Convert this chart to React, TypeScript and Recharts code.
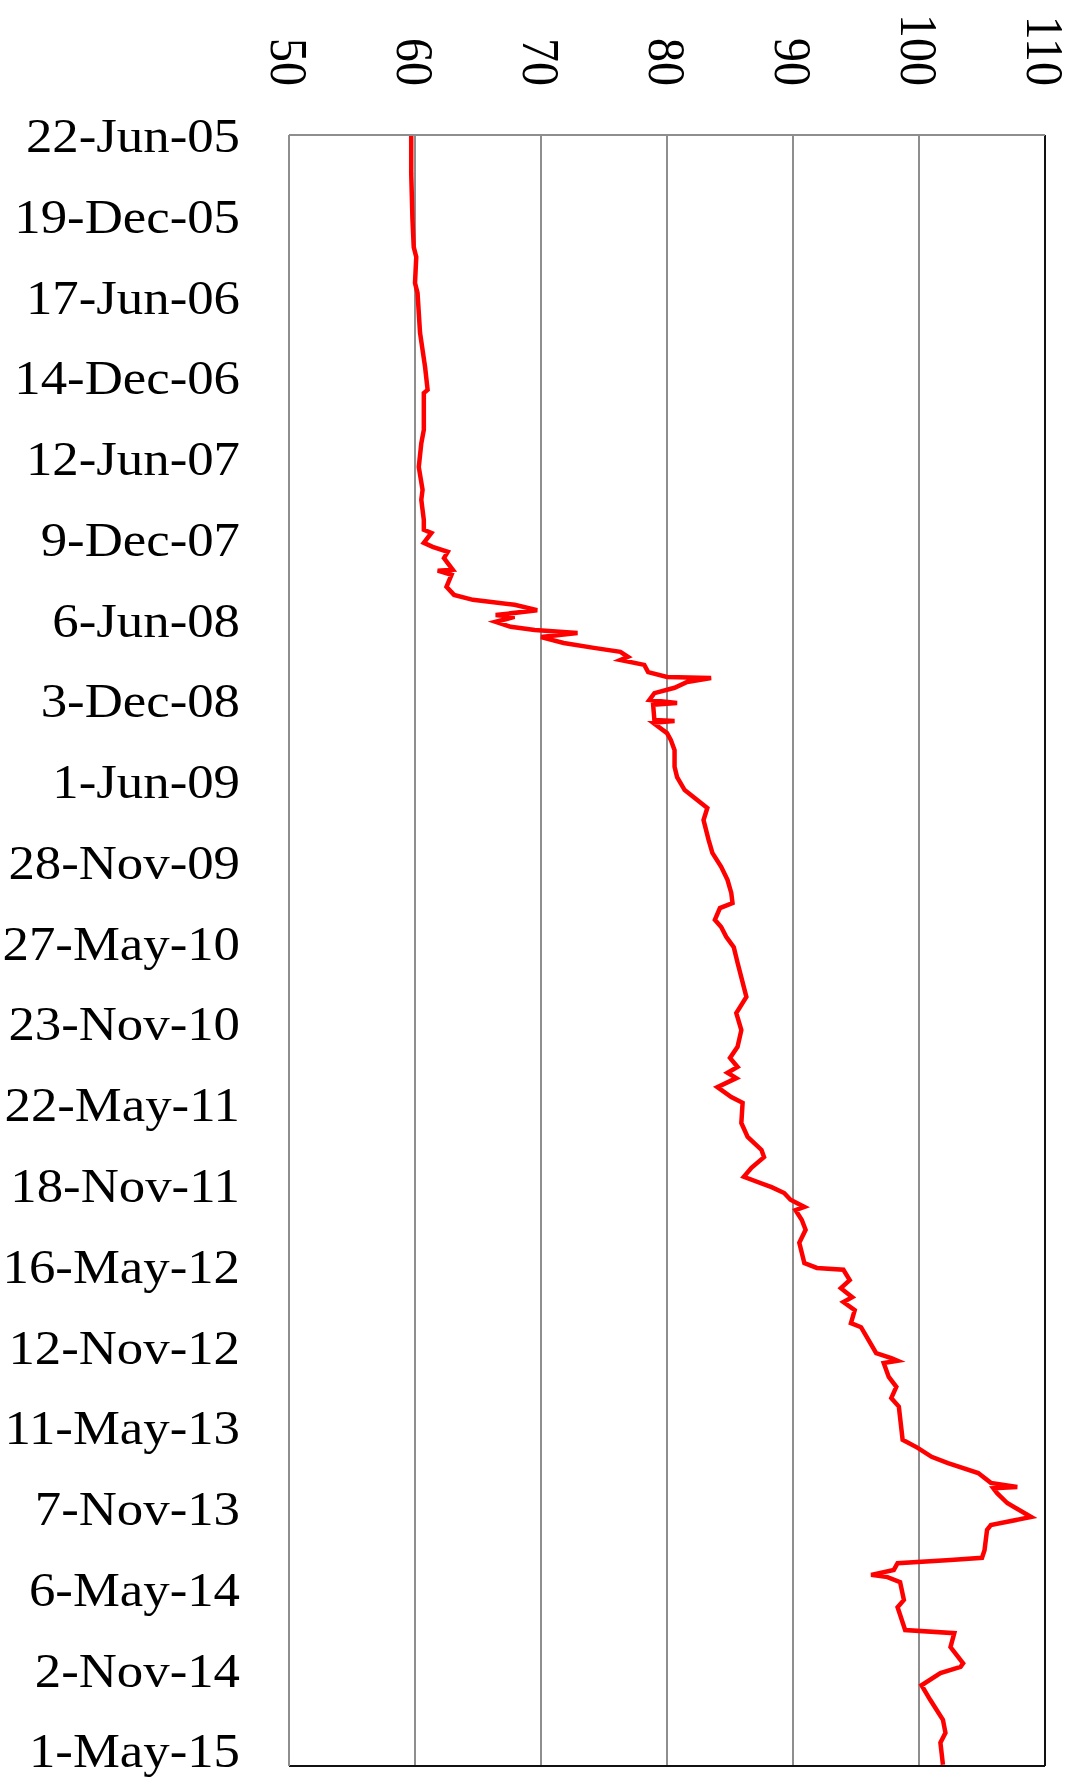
import React from 'react';
import {
  LineChart,
  Line,
  XAxis,
  YAxis,
  CartesianGrid,
  ReferenceLine,
} from 'recharts';

// date axis labels, one every 180 days starting 22-Jun-05
const TICK_LABELS = [
  '22-Jun-05', '19-Dec-05', '17-Jun-06', '14-Dec-06', '12-Jun-07', '9-Dec-07',
  '6-Jun-08', '3-Dec-08', '1-Jun-09', '28-Nov-09', '27-May-10', '23-Nov-10',
  '22-May-11', '18-Nov-11', '16-May-12', '12-Nov-12', '11-May-13', '7-Nov-13',
  '6-May-14', '2-Nov-14', '1-May-15',
];
const TICK_DAYS = [
  0, 180, 360, 540, 720, 900, 1080, 1260, 1440, 1620, 1800,
  1980, 2160, 2340, 2520, 2700, 2880, 3060, 3240, 3420, 3600,
];
const VALUE_TICKS = [50, 60, 70, 80, 90, 100, 110];

// days since 22-Jun-05
const DAYS = [
  0, 85, 189, 250, 272, 330, 352, 441, 517, 568, 575, 657, 687, 740, 791, 813,
  858, 880, 887, 909, 918, 929, 943, 969, 971, 980, 1007, 1025, 1036, 1047, 1059,
  1070, 1074, 1085, 1096, 1103, 1110, 1119, 1132, 1143, 1152, 1163, 1170, 1181,
  1197, 1208, 1210, 1219, 1232, 1244, 1259, 1266, 1270, 1304, 1306, 1310, 1333,
  1348, 1371, 1408, 1431, 1460, 1482, 1500, 1527, 1571, 1600, 1631, 1660, 1689,
  1712, 1723, 1749, 1765, 1787, 1810, 1845, 1921, 1957, 1995, 2032, 2057, 2077,
  2090, 2102, 2122, 2144, 2157, 2202, 2233, 2262, 2278, 2302, 2322, 2345, 2358,
  2373, 2389, 2396, 2418, 2440, 2469, 2514, 2525, 2529, 2552, 2570, 2590, 2601,
  2619, 2648, 2657, 2686, 2715, 2726, 2732, 2737, 2768, 2790, 2815, 2834, 2908,
  2926, 2946, 2960, 2982, 3004, 3013, 3016, 3027, 3049, 3080, 3098, 3109, 3154,
  3171, 3176, 3183, 3198, 3209, 3214, 3225, 3265, 3281, 3332, 3339, 3370, 3406,
  3414, 3428, 3455, 3488, 3532, 3561, 3583, 3632,
];
const VALUES = [
  59.7, 59.7, 59.8, 59.9, 60.1, 60.0, 60.2, 60.4, 60.8, 61.0, 60.7, 60.7, 60.5, 60.3, 60.6, 60.5,
  60.7, 60.7, 61.3, 60.7, 61.4, 62.6, 62.3, 63.0, 61.8, 62.9, 62.5, 63.1, 64.6, 67.9, 69.7,
  66.4, 67.9, 66.4, 67.6, 69.5, 72.9, 70.0, 71.8, 74.2, 76.3, 76.9, 76.3, 78.2,
  78.5, 80.0, 83.5, 81.6, 80.6, 79.0, 78.6, 80.8, 78.9, 79.0, 80.6, 78.9, 80.0,
  80.3, 80.6, 80.6, 80.8, 81.4, 82.4, 83.2, 82.9, 83.3, 83.6, 84.3, 84.8, 85.1,
  85.2, 84.2, 83.8, 84.3, 84.7, 85.3, 85.6, 86.3, 85.5, 85.9, 85.6, 85.0, 85.6,
  84.8, 85.5, 84.0, 85.1, 86.0, 85.9, 86.4, 87.5, 87.7, 86.7, 86.1, 88.3, 89.3,
  89.8, 90.9, 90.2, 90.7, 91.0, 90.5, 90.9, 91.9, 94.0, 94.5, 93.8, 94.7, 94.0,
  94.9, 94.6, 95.4, 96.0, 96.6, 97.8, 98.3, 97.2, 97.6, 98.2, 97.8, 98.4, 98.7,
  99.9, 101.0, 102.3, 104.7, 105.7, 107.8, 105.9, 106.2, 107.0, 108.9, 105.7, 105.4, 105.2,
  105.0, 102.5, 98.3, 98.0, 96.2, 97.5, 98.5, 98.8, 98.3, 98.9, 102.8, 102.5, 103.5,
  103.3, 101.7, 100.2, 100.9, 101.9, 102.1, 101.7, 101.9,
];

const data = DAYS.map((day, i) => ({ day, value: VALUES[i] }));

const FONT = '"Liberation Serif", "Times New Roman", serif';
const STRETCH = 1.1; // the picture is a little wider than tall

function ValueTick(props: any) {
  const { x, y, payload } = props;
  return (
    <text
      transform={`translate(${x},${y}) scale(${STRETCH},1) rotate(90)`}
      textAnchor="end"
      dy="0.35em"
      fontFamily={FONT}
      fontSize={48}
      fill="#000"
    >
      {payload.value}
    </text>
  );
}

function DateTick(props: any) {
  const { x, y, payload } = props;
  const label = TICK_LABELS[TICK_DAYS.indexOf(payload.value)];
  return (
    <text
      transform={`translate(${x},${y}) scale(${STRETCH},1)`}
      textAnchor="end"
      dy="0.355em"
      fontFamily={FONT}
      fontSize={48}
      fill="#000"
    >
      {label}
    </text>
  );
}

const DAY_MAX = 3635;

export default function App() {
  return (
    <div style={{ position: 'absolute', top: 0, left: 0 }}>
      <LineChart
        width={1074}
        height={1777}
        data={data}
        layout="vertical"
        margin={{ top: 0, right: 29, bottom: 11, left: 0 }}
      >
        <CartesianGrid horizontal={false} stroke="#8e8e8e" strokeWidth={2} />
        <XAxis
          type="number"
          orientation="top"
          domain={[50, 110]}
          ticks={VALUE_TICKS}
          interval={0}
          height={135}
          tickLine={false}
          tickSize={0}
          tickMargin={49}
          axisLine={{ stroke: '#8e8e8e', strokeWidth: 2 }}
          tick={<ValueTick />}
        />
        <YAxis
          type="number"
          dataKey="day"
          domain={[0, DAY_MAX]}
          ticks={TICK_DAYS}
          interval={0}
          width={289}
          tickLine={false}
          tickSize={0}
          tickMargin={49}
          axisLine={{ stroke: '#8e8e8e', strokeWidth: 2 }}
          tick={<DateTick />}
        />
        <ReferenceLine x={110} stroke="#111" strokeWidth={2} />
        <ReferenceLine y={DAY_MAX} stroke="#111" strokeWidth={2} />
        <Line
          type="linear"
          dataKey="value"
          stroke="#ff0000"
          strokeWidth={4.5}
          dot={false}
          isAnimationActive={false}
        />
      </LineChart>
    </div>
  );
}
